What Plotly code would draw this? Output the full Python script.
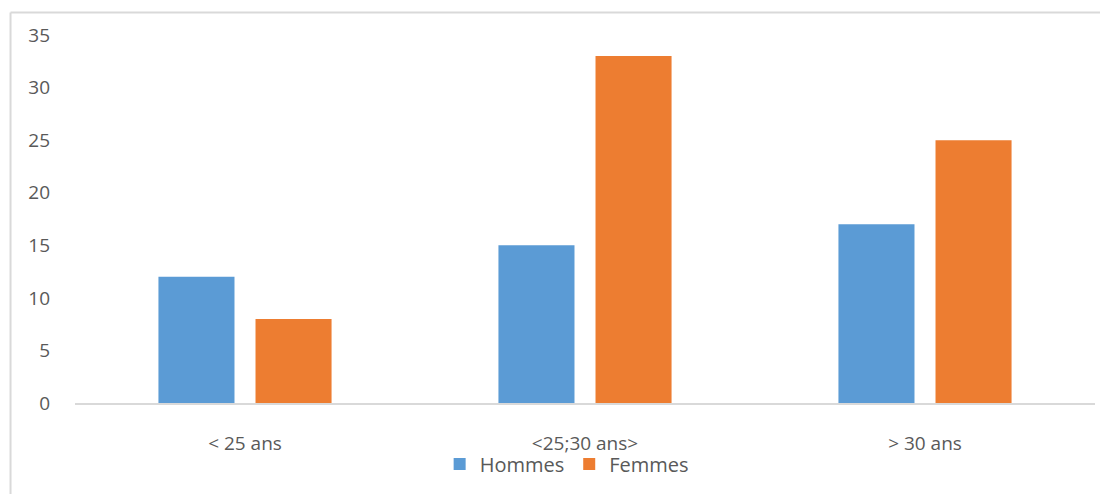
import plotly.graph_objects as go

categories = ["< 25 ans", "<25;30 ans>", "> 30 ans"]
hommes = [12, 15, 17]
femmes = [8, 33, 25]
y_ticks = [0, 5, 10, 15, 20, 25, 30, 35]

font_fam = "Open Sans, Noto Sans, Liberation Sans, sans-serif"
grey = "#595959"
line_c = "#D9D9D9"

fig = go.Figure()
fig.add_trace(go.Bar(x=categories, y=hommes, name="Hommes",
                     marker=dict(color="#5B9BD5", line=dict(width=0))))
fig.add_trace(go.Bar(x=categories, y=femmes, name="Femmes",
                     marker=dict(color="#ED7D31", line=dict(width=0))))

fig.update_layout(
    width=1100, height=494,
    margin=dict(l=75, r=5, t=35, b=91),
    paper_bgcolor="white", plot_bgcolor="white",
    barmode="group", bargap=0.429, bargroupgap=0.2165,
    font=dict(family=font_fam, size=19, color=grey),
    showlegend=True,
    legend=dict(orientation="h", x=0.482, xanchor="center", y=-0.166, yanchor="middle",
                font=dict(size=20, color=grey), bgcolor="rgba(0,0,0,0)",
                itemwidth=30, tracegroupgap=0),
    xaxis=dict(showgrid=False, showline=True, linecolor=line_c, linewidth=2,
               ticks="", tickfont=dict(size=19, color=grey), ticklabelstandoff=22,
               fixedrange=True),
    yaxis=dict(range=[0, 35], tickvals=y_ticks, showgrid=False, zeroline=False,
               showline=False, ticks="", tickfont=dict(size=19, color=grey),
               ticklabelstandoff=24),
    shapes=[
        dict(type="line", xref="paper", yref="paper", x0=-0.0632, x1=-0.0632,
             y0=1.0612, y1=-0.26, line=dict(color=line_c, width=2)),
        dict(type="line", xref="paper", yref="paper", x0=-0.0632, x1=1.01,
             y0=1.0612, y1=1.0612, line=dict(color=line_c, width=2)),
    ],
)

fig.write_html("out.html")
